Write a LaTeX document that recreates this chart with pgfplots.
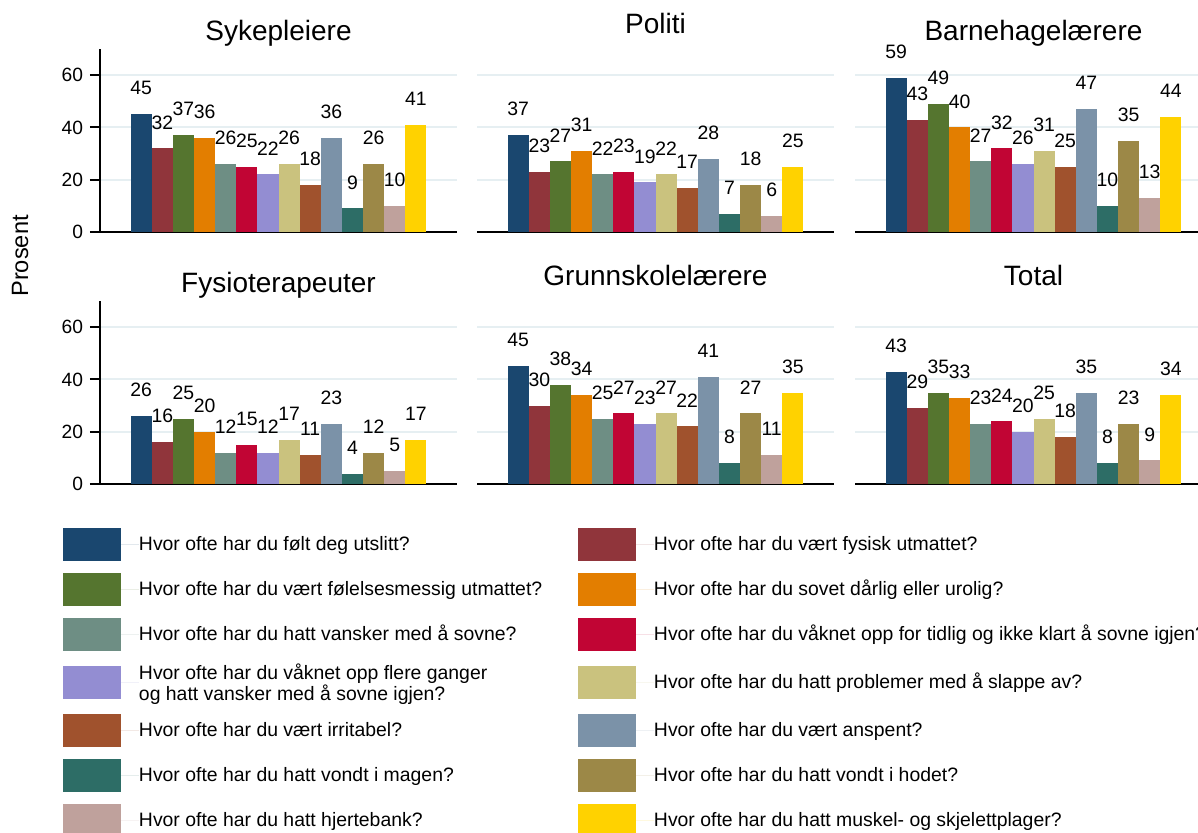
\documentclass[border=0pt]{standalone}
\usepackage{fontspec}
\setmainfont{Liberation Sans}
\usepackage{pgfplots}
\pgfplotsset{compat=1.18}
\definecolor{c1}{RGB}{26,71,111}
\definecolor{c2}{RGB}{144,53,59}
\definecolor{c3}{RGB}{85,117,47}
\definecolor{c4}{RGB}{227,126,0}
\definecolor{c5}{RGB}{110,142,132}
\definecolor{c6}{RGB}{193,5,52}
\definecolor{c7}{RGB}{147,141,210}
\definecolor{c8}{RGB}{202,194,126}
\definecolor{c9}{RGB}{160,82,45}
\definecolor{c10}{RGB}{123,146,168}
\definecolor{c11}{RGB}{45,109,102}
\definecolor{c12}{RGB}{156,136,71}
\definecolor{c13}{RGB}{191,161,156}
\definecolor{c14}{RGB}{255,210,0}
\definecolor{gridc}{RGB}{230,239,242}
\pgfplotsset{
  /pgf/number format/assume math mode=true,
  panel/.style={
    scale only axis, width=178.5pt, height=91.5pt, anchor=south west,
    ybar, bar width=1, bar shift=0pt,
    xmin=-0.95, xmax=15.95, ymin=0, ymax=70,
    ytick={0,20,40,60}, xtick=\empty,
    axis lines=left, axis line style={-, line width=1pt, black},
    ymajorgrids, grid style={color=gridc, line width=1pt},
    major tick length=5pt, tick align=outside,
    ytick style={line width=1pt, black},
    tick label style={font=\fontsize{9.6}{11}\selectfont},
    clip=false,
    nodes near coords,
    every node near coord/.append style={anchor=center, yshift=13pt,
      font=\fontsize{9.7}{11}\selectfont, text=black},
    title style={at={(0.5,1)}, anchor=base, font=\fontsize{14}{16}\selectfont, yshift=-1.5pt},
    cycle list={{fill=c1,draw=none},{fill=c2,draw=none},{fill=c3,draw=none},
      {fill=c4,draw=none},{fill=c5,draw=none},{fill=c6,draw=none},
      {fill=c7,draw=none},{fill=c8,draw=none},{fill=c9,draw=none},
      {fill=c10,draw=none},{fill=c11,draw=none},{fill=c12,draw=none},
      {fill=c13,draw=none},{fill=c14,draw=none}},
  },
  noy/.style={y axis line style={draw=none}, yticklabel=\empty, ytick style={draw=none}},
}
\newcommand{\Lc}[1]{\makebox[219.5pt][l]{#1}}
\begin{document}
\begin{tikzpicture}
\useasboundingbox (0,0) rectangle (599pt,416pt);
% Sykepleiere
\begin{axis}[panel, at={(50pt,300pt)}, title={Sykepleiere},
  ylabel={Prosent}, ylabel style={at={(axis description cs:-0.224,-0.131)}, anchor=center, font=\fontsize{11.8}{13}\selectfont}]
\addplot coordinates {(1,45)};
\addplot coordinates {(2,32)};
\addplot coordinates {(3,37)};
\addplot coordinates {(4,36)};
\addplot coordinates {(5,26)};
\addplot coordinates {(6,25)};
\addplot coordinates {(7,22)};
\addplot coordinates {(8,26)};
\addplot coordinates {(9,18)};
\addplot coordinates {(10,36)};
\addplot coordinates {(11,9)};
\addplot coordinates {(12,26)};
\addplot coordinates {(13,10)};
\addplot coordinates {(14,41)};
\end{axis}
% Politi
\begin{axis}[panel, noy, at={(238.5pt,300pt)}, title={Politi}, title style={yshift=3.5pt}]
\addplot coordinates {(1,37)};
\addplot coordinates {(2,23)};
\addplot coordinates {(3,27)};
\addplot coordinates {(4,31)};
\addplot coordinates {(5,22)};
\addplot coordinates {(6,23)};
\addplot coordinates {(7,19)};
\addplot coordinates {(8,22)};
\addplot coordinates {(9,17)};
\addplot coordinates {(10,28)};
\addplot coordinates {(11,7)};
\addplot coordinates {(12,18)};
\addplot coordinates {(13,6)};
\addplot coordinates {(14,25)};
\end{axis}
% Barnehagelaerere
\begin{axis}[panel, noy, at={(427.5pt,300pt)}, title={Barnehagelærere}]
\addplot coordinates {(1,59)};
\addplot coordinates {(2,43)};
\addplot coordinates {(3,49)};
\addplot coordinates {(4,40)};
\addplot coordinates {(5,27)};
\addplot coordinates {(6,32)};
\addplot coordinates {(7,26)};
\addplot coordinates {(8,31)};
\addplot coordinates {(9,25)};
\addplot coordinates {(10,47)};
\addplot coordinates {(11,10)};
\addplot coordinates {(12,35)};
\addplot coordinates {(13,13)};
\addplot coordinates {(14,44)};
\end{axis}
% Fysioterapeuter
\begin{axis}[panel, at={(50pt,174pt)}, title={Fysioterapeuter}]
\addplot coordinates {(1,26)};
\addplot coordinates {(2,16)};
\addplot coordinates {(3,25)};
\addplot coordinates {(4,20)};
\addplot coordinates {(5,12)};
\addplot coordinates {(6,15)};
\addplot coordinates {(7,12)};
\addplot coordinates {(8,17)};
\addplot coordinates {(9,11)};
\addplot coordinates {(10,23)};
\addplot coordinates {(11,4)};
\addplot coordinates {(12,12)};
\addplot coordinates {(13,5)};
\addplot coordinates {(14,17)};
\end{axis}
% Grunnskolelaerere
\begin{axis}[panel, noy, at={(238.5pt,174pt)}, title={Grunnskolelærere}, title style={yshift=3.5pt}]
\addplot coordinates {(1,45)};
\addplot coordinates {(2,30)};
\addplot coordinates {(3,38)};
\addplot coordinates {(4,34)};
\addplot coordinates {(5,25)};
\addplot coordinates {(6,27)};
\addplot coordinates {(7,23)};
\addplot coordinates {(8,27)};
\addplot coordinates {(9,22)};
\addplot coordinates {(10,41)};
\addplot coordinates {(11,8)};
\addplot coordinates {(12,27)};
\addplot coordinates {(13,11)};
\addplot coordinates {(14,35)};
\end{axis}
% Total
\begin{axis}[panel, noy, at={(427.5pt,174pt)}, title={Total}, title style={yshift=3.5pt},
  legend columns=2,
  legend image code/.code={\fill[#1] (0pt,-8.25pt) rectangle (29pt,8.25pt); \path (29pt,0pt) -- (38pt,0pt);},
  legend style={at={(-2.2185,-0.2404)}, anchor=north west, draw=none, fill=none,
    inner sep=0pt, outer sep=0pt, row sep=6pt, column sep=0pt,
    cells={anchor=west}, nodes={inner sep=0pt},
    font=\fontsize{9.7}{10.5}\selectfont}]
\addplot coordinates {(1,43)};
\addlegendentry{\Lc{Hvor ofte har du følt deg utslitt?}}
\addplot coordinates {(2,29)};
\addlegendentry{Hvor ofte har du vært fysisk utmattet?}
\addplot coordinates {(3,35)};
\addlegendentry{\Lc{Hvor ofte har du vært følelsesmessig utmattet?}}
\addplot coordinates {(4,33)};
\addlegendentry{Hvor ofte har du sovet dårlig eller urolig?}
\addplot coordinates {(5,23)};
\addlegendentry{\Lc{Hvor ofte har du hatt vansker med å sovne?}}
\addplot coordinates {(6,24)};
\addlegendentry{Hvor ofte har du våknet opp for tidlig og ikke klart å sovne igjen?}
\addplot coordinates {(7,20)};
\addlegendentry[minimum height=19.5pt, text depth=5.25pt, text height=12.25pt]{\parbox[c][19.5pt][c]{219.5pt}{\fontsize{9.7}{10.5}\selectfont Hvor ofte har du våknet opp flere ganger\\og hatt vansker med å sovne igjen?}}
\addplot coordinates {(8,25)};
\addlegendentry{Hvor ofte har du hatt problemer med å slappe av?}
\addplot coordinates {(9,18)};
\addlegendentry{\Lc{Hvor ofte har du vært irritabel?}}
\addplot coordinates {(10,35)};
\addlegendentry{Hvor ofte har du vært anspent?}
\addplot coordinates {(11,8)};
\addlegendentry{\Lc{Hvor ofte har du hatt vondt i magen?}}
\addplot coordinates {(12,23)};
\addlegendentry{Hvor ofte har du hatt vondt i hodet?}
\addplot coordinates {(13,9)};
\addlegendentry{\Lc{Hvor ofte har du hatt hjertebank?}}
\addplot coordinates {(14,34)};
\addlegendentry{Hvor ofte har du hatt muskel- og skjelettplager?}
\end{axis}
\end{tikzpicture}
\end{document}
